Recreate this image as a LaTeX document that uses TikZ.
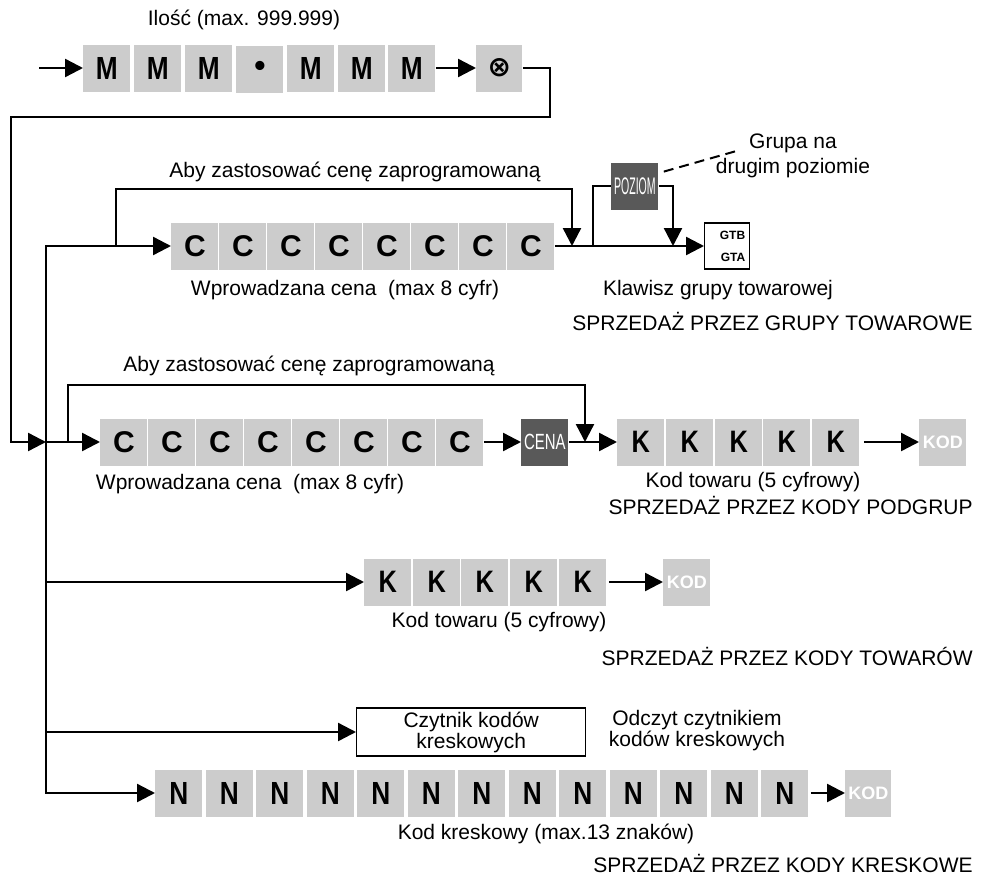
\documentclass[tikz,border=0pt]{standalone}
\usepackage{fontspec}
\setmainfont{Liberation Sans}
\newfontfamily\kbsym{DejaVu Sans}
\usepackage{graphicx}
\usepackage{xcolor}
\usetikzlibrary{positioning,arrows.meta,calc}
\definecolor{KBKey}{HTML}{CCCCCC}
\definecolor{KBDark}{HTML}{595959}
\newcommand{\kbnarrow}[1]{\scalebox{0.82}[1]{#1}}

\begin{document}
\begin{tikzpicture}[x=0.5pt,y=-0.5pt]
  \tikzset{
    kbkey/.style={
      fill=KBKey,
      minimum width=23.5pt,
      minimum height=23.5pt,
      inner sep=0pt,
      anchor=west,
      font=\fontsize{16}{16}\selectfont\bfseries
    },
    kbprice/.style={kbkey,font=\fontsize{15}{15}\selectfont\bfseries},
    kbcode/.style={kbkey,font=\fontsize{15.5}{15.5}\selectfont\bfseries},
    kbdark/.style={kbkey,fill=KBDark,text=white,font=\fontsize{12}{12}\selectfont},
    kbkod/.style={kbkey,text=white,font=\fontsize{9}{9}\selectfont\bfseries},
    kbreader/.style={
      draw=black,
      line width=0.7pt,
      fill=white,
      minimum width=114.5pt,
      minimum height=24pt,
      inner sep=0pt,
      align=center,
      anchor=west,
      font=\fontsize{10.5}{10.5}\selectfont
    },
    kbline/.style={draw=black,line width=1.2pt},
    kbarrow/.style={kbline,-{Triangle[length=9pt,width=9pt]}},
    kbdash/.style={draw=black,line width=1pt,dash pattern=on 5pt off 3pt},
    kbnote/.style={font=\fontsize{10.5}{12}\selectfont,inner sep=0pt,align=center}
  }

  \useasboundingbox[fill=white] (0,0) rectangle (981,878);

  % ------------------------------------------------------------------
  % Quantity entry
  % ------------------------------------------------------------------
  \node[kbnote] (ilosc) at (244,20) {Ilość (max. 999.999)};
  \coordinate (mstart) at (39,68);
  \node[kbkey] (m1) at (83,68) {\kbnarrow{M}};
  \node[kbkey] (m2) at (134,68) {\kbnarrow{M}};
  \node[kbkey] (m3) at (185,68) {\kbnarrow{M}};
  \node[kbkey] (mdot) at (236,69) {\textbullet};
  \node[kbkey] (m4) at (287,68) {\kbnarrow{M}};
  \node[kbkey] (m5) at (338,68) {\kbnarrow{M}};
  \node[kbkey] (m6) at (388,68) {\kbnarrow{M}};
  \node[kbkey,minimum width=23pt,font=\kbsym\fontsize{14}{14}\selectfont\bfseries] (mult)
    at (476,68) {⊗};

  \draw[kbarrow] (mstart) -- (m1.west);
  \draw[kbarrow] (m6.east) -- (mult.west);

  % ------------------------------------------------------------------
  % Sale by department keys
  % ------------------------------------------------------------------
  \coordinate (jtop) at (46,246);
  \coordinate (aby1start) at (116,246);
  \coordinate (aby1end) at (572,246);
  \coordinate (pozstart) at (593,246);
  \coordinate (pozend) at (673,246);
  \coordinate (dashend) at (740,150);

  \node[kbnote] (aby1) at (355,172) {Aby zastosować cenę zaprogramowaną};
  \node[kbprice] (gc1) at (171,246) {C};
  \node[kbprice] (gc2) at (219,246) {C};
  \node[kbprice] (gc3) at (267,246) {C};
  \node[kbprice] (gc4) at (315,246) {C};
  \node[kbprice] (gc5) at (363,246) {C};
  \node[kbprice] (gc6) at (411,246) {C};
  \node[kbprice] (gc7) at (459,246) {C};
  \node[kbprice] (gc8) at (507,246) {C};
  \node[kbnote] (cena1) at (345,290) {Wprowadzana cena~ (max 8 cyfr)};

  \node[kbdark] (poziom) at (611,186) {\scalebox{0.44}[1]{POZIOM}};
  \node[kbnote,font=\fontsize{10.5}{12.5}\selectfont] (grupa) at (793,156)
    {Grupa na\\drugim poziomie};
  \node[draw=black,line width=0.7pt,fill=white,minimum width=22.5pt,minimum height=23pt,
    text width=18pt,inner sep=2pt,align=right,anchor=west,
    font=\fontsize{6}{11}\selectfont\bfseries] (gtb) at (704,246) {GTB\\GTA};
  \node[kbnote] (klawisz) at (718,290) {Klawisz grupy towarowej};
  \node[kbnote,anchor=east] (sgrupy) at (973,321) {SPRZEDAŻ PRZEZ GRUPY TOWAROWE};

  \draw[kbarrow] (aby1start) -- ++(0,-57) -| (aby1end);
  \draw[kbarrow] (gc8.east) -- (gtb.west);
  \draw[kbline] (pozstart) |- (poziom.west);
  \draw[kbarrow] (poziom.east) -| (pozend);
  \draw[kbdash] ([xshift=2.5pt,yshift=-4.75pt]poziom.north east) -- (dashend);

  % ------------------------------------------------------------------
  % Sale by subgroup codes
  % ------------------------------------------------------------------
  \coordinate (jmid) at (46,442);
  \coordinate (aby2start) at (68,442);
  \coordinate (aby2end) at (585,442);

  \node[kbnote] (aby2) at (309,366) {Aby zastosować cenę zaprogramowaną};
  \node[kbprice] (pc1) at (100,442) {C};
  \node[kbprice] (pc2) at (148,442) {C};
  \node[kbprice] (pc3) at (196,442) {C};
  \node[kbprice] (pc4) at (244,442) {C};
  \node[kbprice] (pc5) at (292,442) {C};
  \node[kbprice] (pc6) at (340,442) {C};
  \node[kbprice] (pc7) at (388,442) {C};
  \node[kbprice] (pc8) at (436,442) {C};
  \node[kbdark,font=\fontsize{11}{11}\selectfont] (cena) at (521,442)
    {\scalebox{0.68}[1]{CENA}};
  \node[kbcode] (pk1) at (617,442) {\kbnarrow{K}};
  \node[kbcode] (pk2) at (666,442) {\kbnarrow{K}};
  \node[kbcode] (pk3) at (715,442) {\kbnarrow{K}};
  \node[kbcode] (pk4) at (763,442) {\kbnarrow{K}};
  \node[kbcode] (pk5) at (812,442) {\kbnarrow{K}};
  \node[kbkod] (pkod) at (919,442) {KOD};
  \node[kbnote] (cena2) at (250,484) {Wprowadzana cena~ (max 8 cyfr)};
  \node[kbnote] (kod1) at (753,482) {Kod towaru (5 cyfrowy)};
  \node[kbnote,anchor=east] (spodgrup) at (973,505) {SPRZEDAŻ PRZEZ KODY PODGRUP};

  \draw[kbarrow] (mult.east) -| (550,117) -| (11,442) -- (jmid);
  \draw[kbarrow] (jmid) -- (pc1.west);
  \draw[kbarrow] (aby2start) -- ++(0,-57) -| (aby2end);
  \draw[kbarrow] (pc8.east) -- (cena.west);
  \draw[kbarrow] (cena.east) -- (pk1.west);
  \draw[kbarrow] ([xshift=2pt]pk5.east) -- (pkod.west);

  % ------------------------------------------------------------------
  % Sale by item codes
  % ------------------------------------------------------------------
  \coordinate (jk) at (46,582);
  \node[kbcode] (tk1) at (364,582) {\kbnarrow{K}};
  \node[kbcode] (tk2) at (413,582) {\kbnarrow{K}};
  \node[kbcode] (tk3) at (461,582) {\kbnarrow{K}};
  \node[kbcode] (tk4) at (510,582) {\kbnarrow{K}};
  \node[kbcode] (tk5) at (559,582) {\kbnarrow{K}};
  \node[kbkod] (tkod) at (663,582) {KOD};
  \node[kbnote] (kod2) at (499,622) {Kod towaru (5 cyfrowy)};
  \node[kbnote,anchor=east] (stowarow) at (973,656) {SPRZEDAŻ PRZEZ KODY TOWARÓW};

  \draw[kbarrow] (jk) -- (tk1.west);
  \draw[kbarrow] ([xshift=1pt]tk5.east) -- (tkod.west);

  % ------------------------------------------------------------------
  % Sale by barcodes
  % ------------------------------------------------------------------
  \coordinate (jc) at (46,732);
  \coordinate (jbot) at (46,793);
  \node[kbreader] (czytnik) at (356,732) {Czytnik kodów\\kreskowych};
  \node[kbnote,font=\fontsize{10.5}{10.5}\selectfont] (odczyt) at (697,731)
    {Odczyt czytnikiem\\kodów kreskowych};

  \node[kbkey] (n1) at (155,793) {\kbnarrow{N}};
  \node[kbkey] (n2) at (205.5,793) {\kbnarrow{N}};
  \node[kbkey] (n3) at (256,793) {\kbnarrow{N}};
  \node[kbkey] (n4) at (306.5,793) {\kbnarrow{N}};
  \node[kbkey] (n5) at (357,793) {\kbnarrow{N}};
  \node[kbkey] (n6) at (407.5,793) {\kbnarrow{N}};
  \node[kbkey] (n7) at (458,793) {\kbnarrow{N}};
  \node[kbkey] (n8) at (508.5,793) {\kbnarrow{N}};
  \node[kbkey] (n9) at (559,793) {\kbnarrow{N}};
  \node[kbkey] (n10) at (609.5,793) {\kbnarrow{N}};
  \node[kbkey] (n11) at (660,793) {\kbnarrow{N}};
  \node[kbkey] (n12) at (710.5,793) {\kbnarrow{N}};
  \node[kbkey] (n13) at (761,793) {\kbnarrow{N}};
  \node[kbkod,minimum width=23pt] (nkod) at (845,793) {KOD};
  \node[kbnote] (kreskowy) at (546,834) {Kod kreskowy (max.13 znaków)};
  \node[kbnote,anchor=east] (skreskowe) at (973,863) {SPRZEDAŻ PRZEZ KODY KRESKOWE};

  \draw[kbarrow] (jbot) -- (jtop) -- (gc1.west);
  \draw[kbarrow] (jtop) -- (jbot) -- (n1.west);
  \draw[kbarrow] (jc) -- (czytnik.west);
  \draw[kbarrow] ([xshift=1pt]n13.east) -- (nkod.west);
\end{tikzpicture}
\end{document}
